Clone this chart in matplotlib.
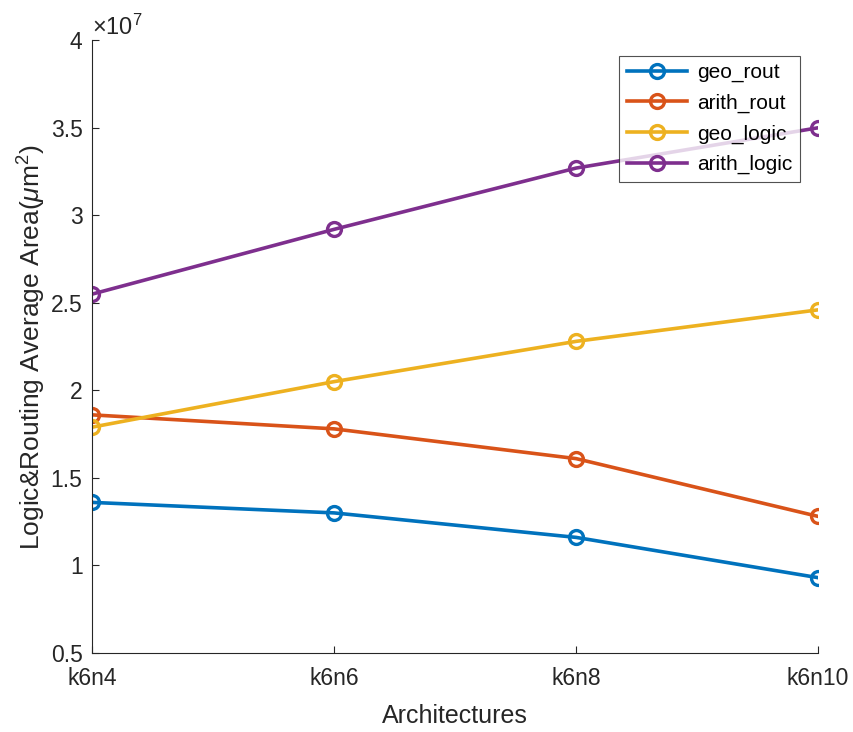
import matplotlib
matplotlib.use("Agg")
import matplotlib.pyplot as plt
from matplotlib.ticker import FormatStrFormatter

plt.rcParams['font.family'] = ['Liberation Sans', 'DejaVu Sans']
plt.rcParams['mathtext.fontset'] = 'custom'
plt.rcParams['mathtext.rm'] = 'Liberation Sans'
plt.rcParams['mathtext.it'] = 'Liberation Sans:italic'

# data (units of 1e7 um^2)
archs = ['k6n4', 'k6n6', 'k6n8', 'k6n10']
geo_rout = [1.36, 1.30, 1.16, 0.93]
arith_rout = [1.86, 1.78, 1.61, 1.28]
geo_logic = [1.79, 2.05, 2.28, 2.46]
arith_logic = [2.55, 2.92, 3.27, 3.50]

series = [('geo_rout', geo_rout, '#0072BD'),
          ('arith_rout', arith_rout, '#D95319'),
          ('geo_logic', geo_logic, '#EDB120'),
          ('arith_logic', arith_logic, '#7E2F8E')]

fig = plt.figure(figsize=(8.54, 7.32), dpi=100)
ax = fig.add_axes([0.108, 0.108, 0.850, 0.837])

x = range(len(archs))
for name, vals, col in series:
    ax.plot(x, vals, '-o', color=col, lw=2.6, ms=10, mfc='none', mew=2.4, label=name)

ax.set_xlim(0, len(archs) - 1)
ax.set_ylim(0.5, 4)
ax.set_xticks(list(x))
ax.set_xticklabels(archs)
ax.set_yticks([0.5, 1, 1.5, 2, 2.5, 3, 3.5, 4])
ax.yaxis.set_major_formatter(FormatStrFormatter('%g'))

for s in ['top', 'right']:
    ax.spines[s].set_visible(False)
for s in ['left', 'bottom']:
    ax.spines[s].set_color('#262626')
    ax.spines[s].set_linewidth(0.8)
ax.tick_params(direction='in', length=5, width=0.8, colors='#262626',
               labelsize=16.5)
ax.tick_params(axis='x', pad=10)
ax.tick_params(axis='y', pad=7)

ax.set_xlabel('Architectures', fontsize=18, color='#262626', labelpad=10)
ax.set_ylabel(r'Logic&Routing Average Area($\mu$m$^2$)', fontsize=19,
              color='#262626', labelpad=2)
ax.text(0.0, 1.0, r'$\times10^{7}$', transform=ax.transAxes, fontsize=17,
        color='#262626', va='bottom', ha='left')

leg = ax.legend(loc='upper right', bbox_to_anchor=(0.975, 0.975), fontsize=15,
                frameon=True, fancybox=False, edgecolor='#262626',
                handlelength=2.9, handletextpad=0.5, borderpad=0.35,
                labelspacing=0.55, borderaxespad=0)
leg.get_frame().set_linewidth(0.8)

fig.savefig('out.png', dpi=100)
